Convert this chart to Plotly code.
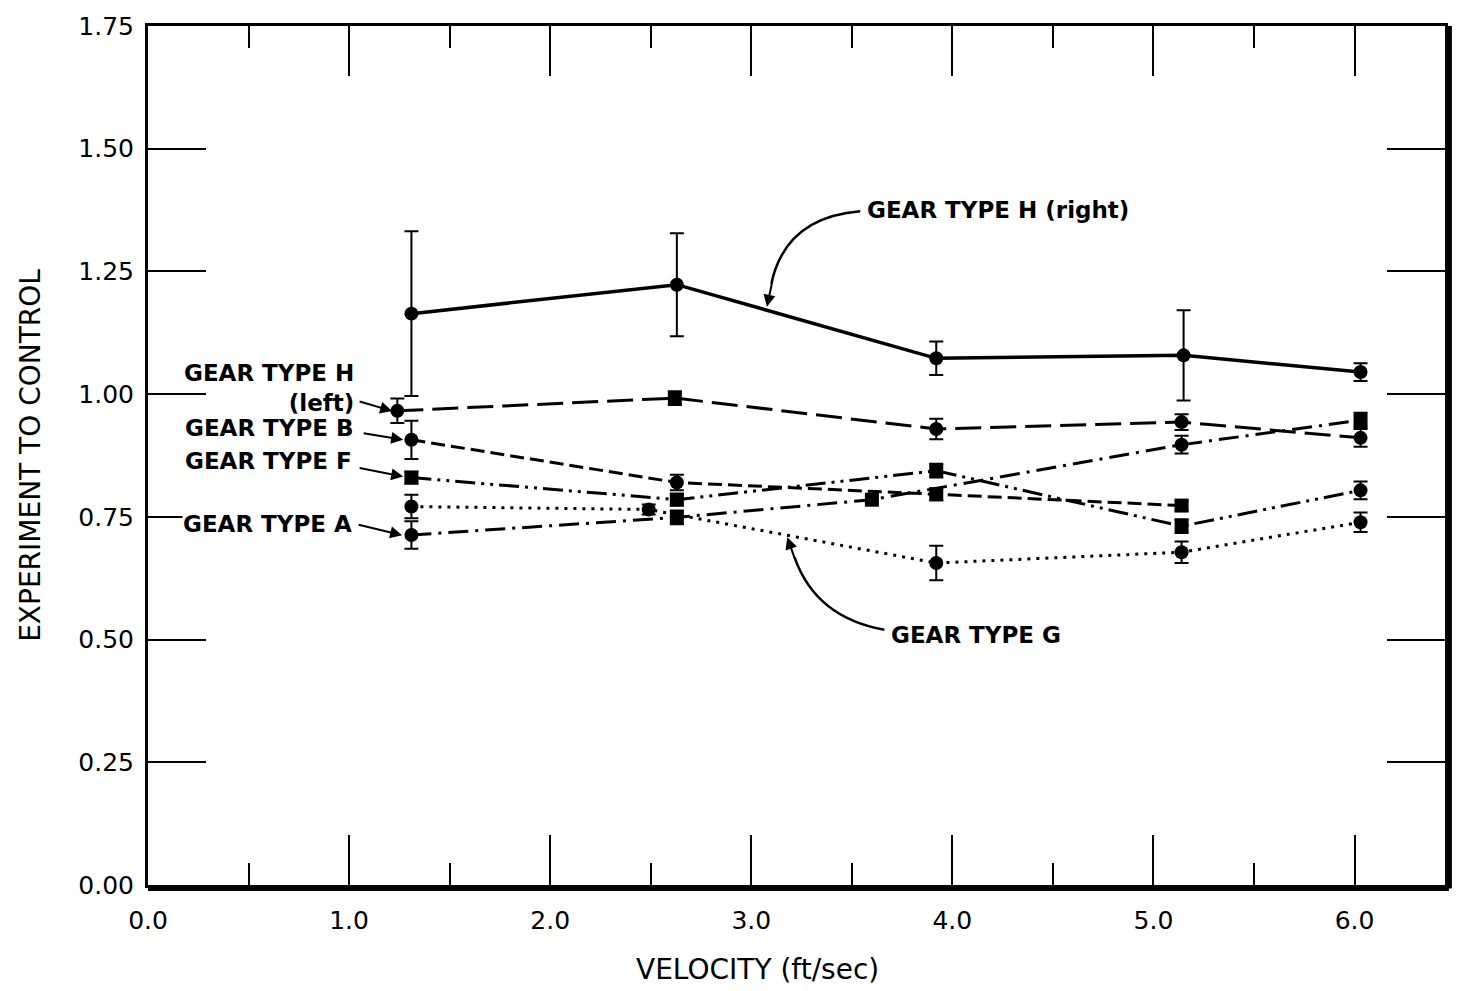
import plotly.graph_objects as go

# ---------------- data ----------------
x_tick_vals = [0, 1, 2, 3, 4, 5, 6]
y_tick_vals = [0.0, 0.25, 0.5, 0.75, 1.0, 1.25, 1.5, 1.75]

h_right_x = [1.31, 2.63, 3.92, 5.15, 6.03]
h_right_y = [1.164, 1.223, 1.073, 1.079, 1.045]
h_right_err = [0.168, 0.105, 0.034, 0.092, 0.018]

h_left_x = [1.24, 2.62, 3.92, 5.14, 6.03]
h_left_y = [0.966, 0.992, 0.929, 0.943, 0.911]
h_left_err = [0.025, 0.014, 0.021, 0.016, 0.018]

b_x = [1.31, 2.63, 3.92, 5.14]
b_y = [0.907, 0.820, 0.796, 0.773]
b_err = [0.039, 0.016, 0.012, 0.010]

f_x = [1.31, 2.63, 3.92, 5.14, 6.03]
f_y = [0.830, 0.785, 0.844, 0.731, 0.804]
f_err = [0.012, 0.012, 0.014, 0.014, 0.018]

a_x = [1.31, 2.63, 3.60, 5.14, 6.03]
a_y = [0.713, 0.749, 0.785, 0.897, 0.947]
a_err = [0.028, 0.014, 0.008, 0.018, 0.015]

g_x = [1.31, 2.49, 3.92, 5.14, 6.03]
g_y = [0.771, 0.765, 0.656, 0.678, 0.739]
g_err = [0.024, 0.010, 0.035, 0.022, 0.020]

# ---------------- styles ----------------
series = [
    ("GEAR TYPE H (right)", h_right_x, h_right_y, h_right_err, "solid", 3.5,
     ["circle"] * 5),
    ("GEAR TYPE H (left)", h_left_x, h_left_y, h_left_err, "26px,9px", 3,
     ["circle", "square", "circle", "circle", "circle"]),
    ("GEAR TYPE B", b_x, b_y, b_err, "14px,6px", 3,
     ["circle", "circle", "square", "square"]),
    ("GEAR TYPE F", f_x, f_y, f_err, "20px,6px,3px,6px,3px,6px", 3,
     ["square", "square", "square", "square", "circle"]),
    ("GEAR TYPE A", a_x, a_y, a_err, "20px,7px,3px,7px", 3,
     ["circle", "square", "square", "circle", "square"]),
    ("GEAR TYPE G", g_x, g_y, g_err, "3px,6px", 3,
     ["circle"] * 5),
]

fig = go.Figure()
for name, xs, ys, es, dash, lw, syms in series:
    fig.add_trace(go.Scatter(
        x=xs, y=ys, name=name, mode="lines+markers",
        line=dict(color="black", width=lw, dash=dash),
        marker=dict(color="black", size=14, symbol=syms),
        error_y=dict(type="data", array=es, visible=True,
                     color="black", thickness=2, width=7),
        showlegend=False,
    ))

TXT = dict(family="DejaVu Sans", size=23, color="black", weight="bold")

annotations = []
# text labels
labels = [
    ("GEAR TYPE H (right)", 3.572, 1.3745, "left"),
    ("GEAR TYPE G", 3.692, 0.510, "left"),
    ("GEAR TYPE H<br>(left)", 1.030, 1.013, "right"),
    ("GEAR TYPE B", 1.030, 0.931, "right"),
    ("GEAR TYPE F", 1.020, 0.864, "right"),
    ("GEAR TYPE A", 1.020, 0.735, "right"),
]
for t, x, y, anc in labels:
    annotations.append(dict(
        x=x, y=y, xref="x", yref="y", text=t, showarrow=False,
        xanchor=anc, yanchor="middle", align=anc, font=TXT,
        bgcolor="white" if t == "GEAR TYPE A" else None, borderpad=0))

# x-axis title placed under the 3.0 tick as in the reference
annotations.append(dict(
    x=3.03, y=-0.098, xref="x", yref="paper", text="VELOCITY (ft/sec)",
    showarrow=False, xanchor="center", yanchor="middle",
    font=dict(family="DejaVu Sans", size=28, color="black")))

# arrows (tip, tail) in data coordinates
arrows = [
    ((1.214, 0.9656), (1.045, 0.9858)),
    ((1.269, 0.907), (1.065, 0.921)),
    ((1.269, 0.832), (1.045, 0.850)),
    ((1.264, 0.7126), (1.040, 0.7348)),
    ((3.078, 1.178), (3.106, 1.232)),
    ((3.179, 0.7085), (3.219, 0.662)),
]
for (tx, ty), (sx, sy) in arrows:
    annotations.append(dict(
        x=tx, y=ty, ax=sx, ay=sy, xref="x", yref="y", axref="x", ayref="y",
        text="", showarrow=True, arrowhead=2, arrowsize=1.2, arrowwidth=2,
        arrowcolor="black", standoff=0, startstandoff=0))

shapes = [
    # curved leader for H (right)
    dict(type="path", xref="x", yref="y",
         path="M 3.542,1.3725 Q 3.17,1.36 3.10,1.225",
         line=dict(color="black", width=2.5)),
    # curved leader for G
    dict(type="path", xref="x", yref="y",
         path="M 3.662,0.520 Q 3.32,0.545 3.215,0.668",
         line=dict(color="black", width=2.5)),
    # heavy bottom and right frame edges
    dict(type="line", xref="paper", yref="paper", x0=0, x1=1.003, y0=-0.004, y1=-0.004,
         line=dict(color="black", width=5)),
    dict(type="line", xref="paper", yref="paper", x0=1.003, x1=1.003, y0=-0.004, y1=1.0,
         line=dict(color="black", width=6)),
]

AX = dict(family="DejaVu Sans", size=25, color="black")

fig.update_layout(
    width=1465, height=991,
    margin=dict(l=148, r=20, t=20, b=106),
    paper_bgcolor="white", plot_bgcolor="white",
    annotations=annotations, shapes=shapes,
    xaxis=dict(
        range=[0, 6.45], tickvals=x_tick_vals, tickformat=".1f",
        ticks="inside", ticklen=50, tickwidth=2, tickcolor="black",
        minor=dict(dtick=0.5, tick0=0, ticks="inside", ticklen=22,
                   tickwidth=2, tickcolor="black", showgrid=False),
        showline=True, linecolor="black", linewidth=3, mirror="ticks",
        showgrid=False, zeroline=False, tickfont=AX, ticklabelstandoff=11,
    ),
    yaxis=dict(
        range=[0, 1.75], tickvals=y_tick_vals, tickformat=".2f",
        ticks="inside", ticklen=58, tickwidth=2, tickcolor="black",
        showline=True, linecolor="black", linewidth=3, mirror="ticks",
        showgrid=False, zeroline=False, tickfont=AX, ticklabelstandoff=6,
        title=dict(text="EXPERIMENT TO CONTROL",
                   font=dict(family="DejaVu Sans", size=28, color="black"),
                   standoff=30),
    ),
)

fig.write_html("out.html")
